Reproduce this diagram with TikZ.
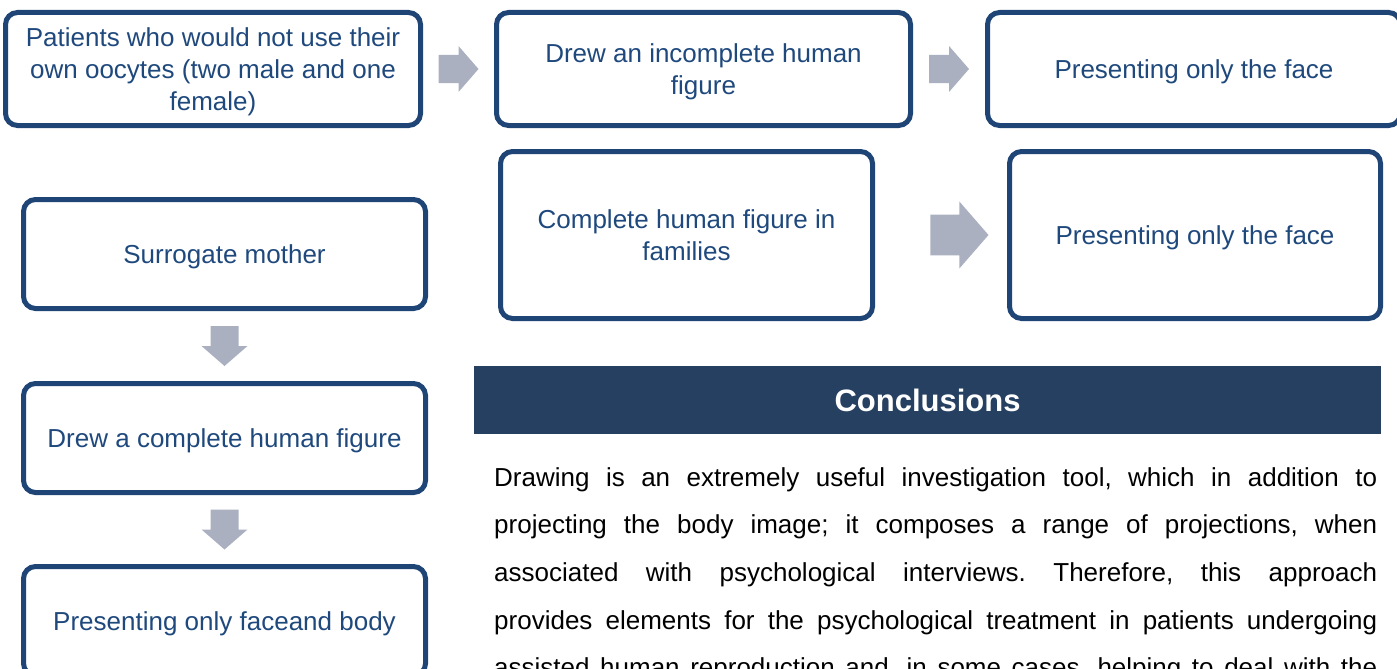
\documentclass[tikz,border=0pt]{standalone}
\usepackage{fontspec}
\setmainfont{Liberation Sans}
\usetikzlibrary{positioning,calc}

\definecolor{boxblue}{RGB}{31,69,118}
\definecolor{textblue}{RGB}{31,73,125}
\definecolor{arrowgray}{RGB}{170,176,192}
\definecolor{headblue}{RGB}{38,64,97}

\tikzset{
  blockarrow/.pic={
    \fill[arrowgray] (-20,-14) -- (0,-14) -- (0,-23) -- (20,0) -- (0,23) -- (0,14) -- (-20,14) -- cycle;
  }
}

\begin{document}
\begin{tikzpicture}[
  x=1pt, y=-1pt,
  stage/.style={draw=boxblue, line width=5pt, rounded corners=12pt, fill=white,
                align=center, text=textblue, inner sep=0pt, text depth=0pt,
                font=\fontsize{26}{32}\selectfont},
  head/.style={fill=headblue, text=white, inner sep=0pt,
               font=\fontsize{31}{36}\selectfont\bfseries},
  node distance=70pt,
]
  \useasboundingbox (0,0) rectangle (1397,669);

  % top row
  \node[stage, minimum width=415pt, minimum height=113pt] (own) at (213,69)
    {Patients who would not use their\\own oocytes (two male and one\\female)};
  \node[stage, minimum width=414pt, minimum height=113pt, right=71pt of own] (incomplete)
    {Drew an incomplete human\\figure};
  \node[stage, minimum width=413pt, minimum height=113pt, right=72pt of incomplete] (face1)
    {Presenting only the face};

  % second row
  \node[stage, minimum width=372pt, minimum height=167pt] (families) at (686.5,235)
    {Complete human figure in\\families};
  \node[stage, minimum width=371pt, minimum height=167pt, right=132pt of families] (face2)
    {Presenting only the face};

  % left column
  \node[stage, minimum width=402pt, minimum height=109pt] (surrogate) at (224.5,254)
    {Surrogate mother};
  \node[stage, minimum width=402pt, minimum height=109pt, below=of surrogate] (complete)
    {Drew a complete human figure};
  \node[stage, minimum width=402pt, minimum height=109pt, below=69pt of complete] (facebody)
    {Presenting only faceand body};

  \pic at ($(own.east)!0.5!(incomplete.west)$) {blockarrow};
  \pic at ($(incomplete.east)!0.5!(face1.west)$) {blockarrow};
  \pic[scale=1.45] at ($(families.east)!0.64!(face2.west)$) {blockarrow};
  \pic[rotate=-90] at ($(surrogate.south)!0.5!(complete.north)$) {blockarrow};
  \pic[rotate=-90] at ($(complete.south)!0.5!(facebody.north)$) {blockarrow};

  \node[head, minimum width=907pt, minimum height=68pt] (concl) at (927.5,400) {Conclusions};
  \node[anchor=base west, inner sep=0pt, text width=883pt, align=justify,
        font=\fontsize{26}{47.7}\selectfont] (summary) at (494,486)
    {\tolerance=10000\hbadness=10000\frenchspacing
     Drawing is an extremely useful investigation tool, which in addition to\linebreak
     projecting the body image; it composes a range of projections, when\linebreak
     associated with psychological interviews. Therefore, this approach\linebreak
     provides elements for the psychological treatment in patients undergoing\linebreak
     assisted human reproduction and, in some cases, helping to deal with the\linebreak\mbox{}};
\end{tikzpicture}
\end{document}
